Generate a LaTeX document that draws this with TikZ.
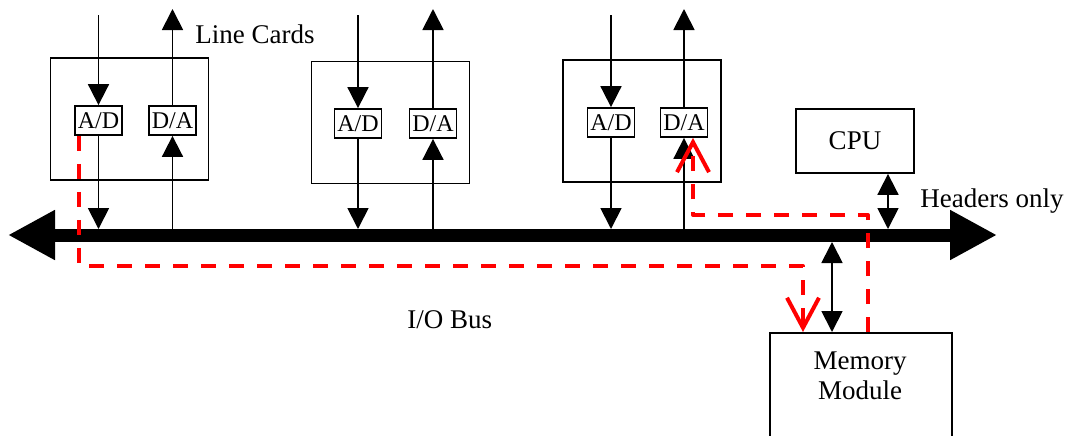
\documentclass[tikz,border=0pt]{standalone}
\usepackage{fontspec}
\setmainfont{Liberation Serif}
\usetikzlibrary{arrows.meta}

\begin{document}
\begin{tikzpicture}[x=0.5pt, y=-0.5pt,
    >={Triangle[length=10.5pt,width=10.5pt]},
    sig/.style={->, line width=0.9pt},
    sigboth/.style={<->, line width=0.9pt},
    card/.style={draw, line width=0.9pt, minimum width=79pt, minimum height=61pt},
    conv/.style={draw, line width=0.9pt, minimum width=23.5pt, minimum height=14.5pt,
        inner sep=0.5pt, font=\fontsize{12}{12}\selectfont},
    lbl/.style={font=\fontsize{13.5}{15}\selectfont, inner sep=0pt},
    flow/.style={draw=red, line width=2pt, line join=round, dash pattern=on 7.5pt off 6.5pt,
        -{Straight Barb[length=15pt,width=16pt]}}]

    \useasboundingbox (0,0) rectangle (1072,435);

    % levels
    \coordinate (intop) at (0,15);
    \coordinate (outtop) at (0,9);
    \coordinate (bustop) at (0,229);
    \coordinate (busbot) at (0,242);
    \coordinate (highrun) at (0,215);
    \coordinate (lowrun) at (0,266);
    \coordinate (busL) at (8,235);
    \coordinate (busR) at (997,235);

    % line cards
    \node[card] (card1) at (129.5,119) {};
    \node[card] (card2) at (390.5,122.5) {};
    \node[card] (card3) at (642,121) {};
    \node[conv] (ad1) at (98.5,120.5) {A/D};
    \node[conv] (da1) at (172.5,120.5) {D/A};
    \node[conv] (ad2) at (358,123.5) {A/D};
    \node[conv] (da2) at (433,123.5) {D/A};
    \node[conv] (ad3) at (611,122.5) {A/D};
    \node[conv] (da3) at (684,122.5) {D/A};
    \node[lbl, anchor=base west] (linecards) at (195,43) {Line Cards};

    % CPU and memory
    \node[draw, line width=0.9pt, minimum width=59pt, minimum height=32pt, lbl] (cpu) at (855,141) {CPU};
    \node[draw, line width=0.9pt, minimum width=91pt, minimum height=70pt, anchor=north] (mem) at (861,332) {};
    \node[lbl, align=center, anchor=north] (memtext) at (860,351) {Memory\\Module};
    \node[lbl, anchor=base west] (headers) at (920,207) {Headers only};
    \node[lbl, anchor=base west] (iobus) at (407,328) {I/O Bus};

    % signals in and out
    \foreach \i in {1,2,3} {
        \draw[sig] (ad\i.north |- intop) -- (ad\i.north);
        \draw[sig] (ad\i.south) -- (ad\i.south |- bustop);
        \draw[sig] (da\i.south |- bustop) -- (da\i.south);
        \draw[sig] (da\i.north) -- (da\i.north |- outtop);
    }
    \draw[sigboth] ([xshift=16.5pt]cpu.south) -- ([xshift=16.5pt]cpu.south |- bustop);
    \draw[sigboth] ([xshift=-14.5pt]mem.north |- busbot) -- ([xshift=-14.5pt]mem.north);

    % bus
    \draw[line width=6.5pt, {Triangle[length=23.5pt,width=23.5pt]}-{Triangle[length=23.5pt,width=23.5pt]}] (busL) -- (busR);

    % packet path
    \coordinate (adout) at ([xshift=2.5pt]ad1.south west);
    \coordinate (memin) at ([xshift=-29pt]mem.north);
    \coordinate (memout) at ([xshift=3.5pt]mem.north);
    \coordinate (dain) at ([xshift=4.5pt]da3.south);
    \draw[flow] (adout) |- (lowrun -| memin) -- (memin);
    \draw[flow] (memout) |- (highrun -| dain) -- (dain);
\end{tikzpicture}
\end{document}
